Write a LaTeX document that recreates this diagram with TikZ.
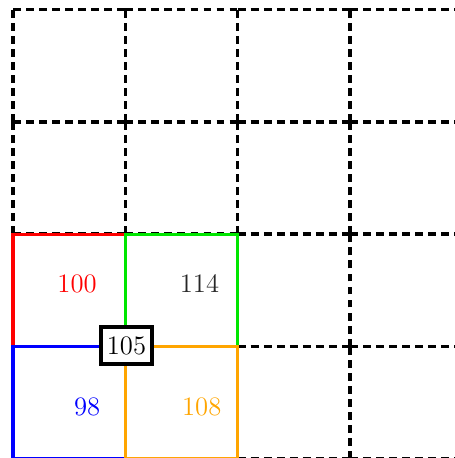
\documentclass[tikz,border=0pt]{standalone}
\usepackage{xcolor}
\usepackage{tikz}
\definecolor{gridorange}{RGB}{255,165,0}
\definecolor{gridgreen}{RGB}{0,230,0}

\begin{document}
\begin{tikzpicture}[
  x=2cm, y=2cm,
  gl/.style={line width=1.8pt, dash pattern=on 4pt off 2.6pt},
  cell/.style={line width=1.6pt},
  val/.style={inner sep=0pt, font=\fontsize{13.5}{16}\selectfont},
  pivot/.style={draw, line width=2.2pt, fill=white, inner xsep=3pt,
    minimum height=18.5pt, font=\fontsize{13.5}{16}\selectfont}
]
\useasboundingbox (-0.116,0.008) rectangle (3.929,4.085);

% dashed grid, one segment per cell edge
\foreach \i in {0,...,3} {
  \foreach \j in {0,...,4} {
    \draw[gl] (\i,\j) -- (\i+1,\j);
    \draw[gl] (\j,\i) -- (\j,\i+1);
  }
}

% the four cells round the pivot
\draw[cell, red]         (0,1) rectangle (1,2);
\draw[cell, gridgreen]   (1,1) rectangle (2,2);
\draw[cell, blue]        (0,0) rectangle (1,1);
\draw[cell, gridorange]  (1,0) rectangle (2,1);

\node[val, text=red]        (nw) at (0.57,1.56) {100};
\node[val, text=black!85]   (ne) at (1.66,1.56) {114};
\node[val, text=blue]       (sw) at (0.66,0.46) {98};
\node[val, text=gridorange] (se) at (1.68,0.46) {108};

\node[pivot] (mid) at (1.01,1.01) {105};

\end{tikzpicture}
\end{document}
